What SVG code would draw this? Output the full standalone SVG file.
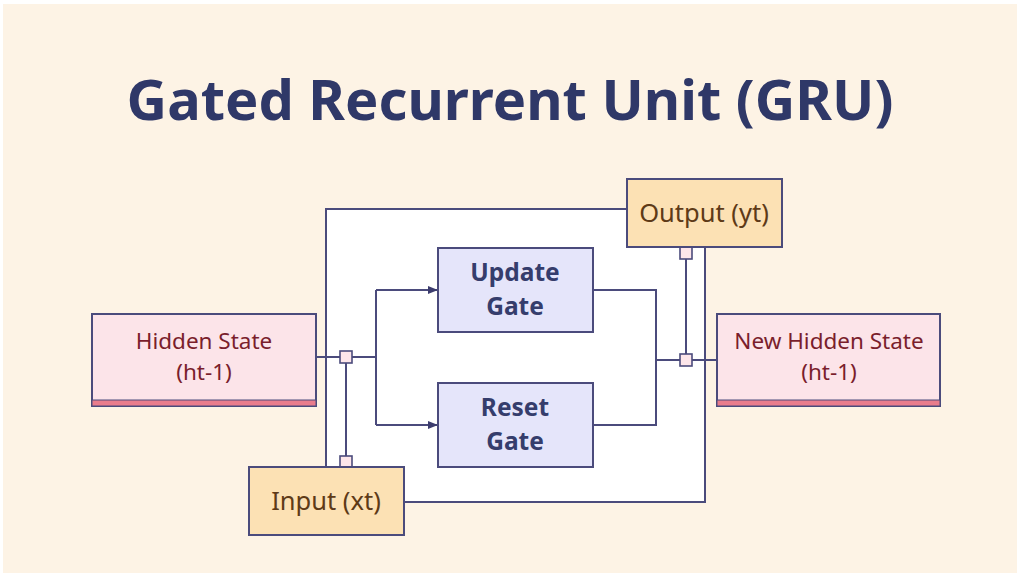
<svg xmlns="http://www.w3.org/2000/svg" width="1017" height="573" viewBox="0 0 1017 573">
  <style>
    .wire { fill: none; stroke: #4B4B7C; stroke-width: 2; }
    .state { fill: #FCE4E9; stroke: #4B4B7C; stroke-width: 2; }
    .stateBar { fill: #E97C8C; stroke: #4B4B7C; stroke-width: 1; }
    .gate { fill: #E5E5FA; stroke: #4B4B7C; stroke-width: 2; }
    .io { fill: #FCE1B4; stroke: #4B4B7C; stroke-width: 2; }
    .joint { fill: #FDE6EA; stroke: #4B4B7C; stroke-width: 1.6; }
    .title { font-family: "Noto Sans", "Open Sans", sans-serif; font-weight: 700; font-size: 56px; fill: #2F3868; }
    .stateText { font-family: "Noto Sans", "Open Sans", sans-serif; font-size: 22.5px; fill: #7A1E2C; }
    .gateText { font-family: "Noto Sans", "Open Sans", sans-serif; font-weight: 700; font-size: 24.5px; fill: #353D6C; }
    .ioText { font-family: "Noto Sans", "Open Sans", sans-serif; font-size: 25.5px; fill: #5E3A17; }
  </style>
  <defs>
    <marker id="arrow" viewBox="0 0 10 10" refX="9" refY="5" markerWidth="10" markerHeight="10" orient="auto" markerUnits="userSpaceOnUse">
      <path d="M0,1 L10,5 L0,9 z" fill="#3C3C6E"/>
    </marker>
  </defs>

  <!-- page background -->
  <rect x="0" y="0" width="1017" height="573" fill="#FFFFFF"/>
  <rect x="3" y="4" width="1014" height="569" fill="#FDF3E5"/>

  <text class="title" x="510" y="120" text-anchor="middle">Gated Recurrent Unit (GRU)</text>

  <!-- recurrent loop frame -->
  <rect x="326" y="209" width="379" height="293" fill="#FFFFFF" stroke="#4B4B7C" stroke-width="2"/>

  <g id="connectors">
    <!-- previous hidden state fans out to both gates -->
    <path class="wire" d="M316,357 H376"/>
    <path class="wire" d="M376,290 V425"/>
    <path class="wire" d="M376,290 H437" marker-end="url(#arrow)"/>
    <path class="wire" d="M376,425 H437" marker-end="url(#arrow)"/>
    <!-- input joins the hidden state -->
    <path class="wire" d="M346,363 V456"/>
    <!-- gate outputs merge -->
    <path class="wire" d="M593,290 H656 V425 H593"/>
    <path class="wire" d="M656,360 H717"/>
    <!-- output tap -->
    <path class="wire" d="M686,259 V354"/>
    <!-- junction markers -->
    <rect class="joint" x="340" y="351" width="12" height="12"/>
    <rect class="joint" x="340" y="456" width="12" height="12"/>
    <rect class="joint" x="680" y="354" width="12" height="12"/>
    <rect class="joint" x="680" y="247" width="12" height="12"/>
  </g>

  <g id="hidden-state">
    <rect class="state" x="92" y="314" width="224" height="92"/>
    <rect class="stateBar" x="92" y="400" width="224" height="6"/>
    <text class="stateText" x="204" y="349" text-anchor="middle">Hidden State</text>
    <text class="stateText" x="204" y="380" text-anchor="middle">(ht-1)</text>
  </g>

  <g id="new-hidden-state">
    <rect class="state" x="717" y="314" width="223" height="92"/>
    <rect class="stateBar" x="717" y="400" width="223" height="6"/>
    <text class="stateText" x="829" y="349" text-anchor="middle">New Hidden State</text>
    <text class="stateText" x="829" y="380" text-anchor="middle">(ht-1)</text>
  </g>

  <g id="update-gate">
    <rect class="gate" x="438" y="248" width="155" height="84"/>
    <text class="gateText" x="515" y="281" text-anchor="middle">Update</text>
    <text class="gateText" x="515" y="315" text-anchor="middle">Gate</text>
  </g>

  <g id="reset-gate">
    <rect class="gate" x="438" y="383" width="155" height="84"/>
    <text class="gateText" x="515" y="416" text-anchor="middle">Reset</text>
    <text class="gateText" x="515" y="450" text-anchor="middle">Gate</text>
  </g>

  <g id="output">
    <rect class="io" x="627" y="179" width="155" height="68"/>
    <text class="ioText" x="704" y="222" text-anchor="middle">Output (yt)</text>
  </g>

  <g id="input">
    <rect class="io" x="249" y="467" width="155" height="68"/>
    <text class="ioText" x="326" y="510" text-anchor="middle">Input (xt)</text>
  </g>
</svg>
